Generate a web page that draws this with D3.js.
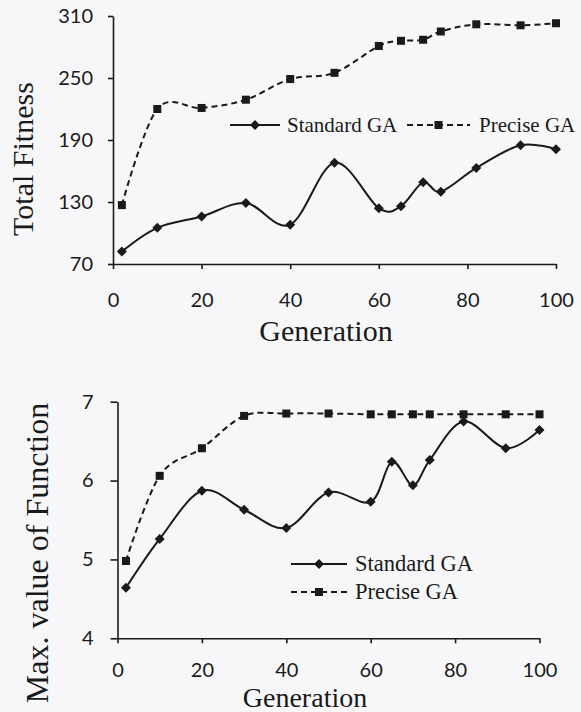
<!DOCTYPE html>
<html>
<head>
<meta charset="utf-8">
<script src="https://cdn.jsdelivr.net/npm/d3@7"></script>
<style>
    body { margin: 0; background: #f7f7f9; }
    svg { display: block; }
    .tick text { font-family: Lato, sans-serif; font-size: 20px; fill: #1a1a1a; }
    .serif { font-family: "Liberation Serif", "Times New Roman", serif; fill: #1a1a1a; }
</style>
</head>
<body>
<div id="chart"></div>
<script>
// 数据
const generations = [2, 10, 20, 30, 40, 50, 60, 65, 70, 74, 82, 92, 100];
const xTicks = [0, 20, 40, 60, 80, 100];

const fitnessStandard = [82, 105, 116, 129, 108, 168, 124, 126, 149, 140, 163, 185, 181];
const fitnessPrecise = [127, 220, 221, 229, 249, 255, 281, 286, 287, 295, 302, 301, 303];
const fitnessTicks = [70, 130, 190, 250, 310];

const maxStandard = [4.64, 5.26, 5.87, 5.63, 5.40, 5.85, 5.73, 6.24, 5.94, 6.26, 6.75, 6.41, 6.64];
const maxPrecise = [4.98, 6.06, 6.41, 6.82, 6.85, 6.85, 6.84, 6.84, 6.84, 6.84, 6.84, 6.84, 6.84];
const maxTicks = [4, 5, 6, 7];

const seriesNames = ["Standard GA", "Precise GA"];

const width = 581, height = 712;
const ink = "#1a1a1a";

const svg = d3.select("#chart")
    .append("svg")
    .attr("width", width)
    .attr("height", height);

const diamond = "M0,-5L5,0L0,5L-5,0Z";

function drawPanel(cfg) {
    const x = d3.scaleLinear().domain([0, 100]).range(cfg.xRange);
    const y = d3.scaleLinear().domain(d3.extent(cfg.yTicks)).range(cfg.yRange);
    const g = svg.append("g");

    // 坐标轴
    const xAxis = g.append("g")
        .attr("transform", `translate(0,${cfg.yRange[0]})`)
        .call(d3.axisBottom(x).tickValues(xTicks).tickSize(5).tickSizeOuter(0).tickPadding(cfg.xPad));
    const yAxis = g.append("g")
        .attr("transform", `translate(${cfg.xRange[0]},0)`)
        .call(d3.axisLeft(y).tickValues(cfg.yTicks).tickFormat(d3.format("d"))
            .tickSize(cfg.yTickSize).tickSizeOuter(0).tickPadding(cfg.yPad));
    [xAxis, yAxis].forEach(a => {
        a.selectAll("path, line").attr("stroke", ink).attr("stroke-width", 1.6);
    });

    const line = d3.line()
        .x((d, i) => x(generations[i]))
        .y(d => y(d))
        .curve(d3.curveCardinal.tension(0));

    // 精确GA（虚线）
    g.append("path")
        .attr("d", line(cfg.precise))
        .attr("fill", "none")
        .attr("stroke", ink)
        .attr("stroke-width", 2)
        .attr("stroke-dasharray", "6,4");
    g.append("g").selectAll("rect")
        .data(cfg.precise)
        .join("rect")
        .attr("x", (d, i) => x(generations[i]) - 4)
        .attr("y", d => y(d) - 4)
        .attr("width", 8)
        .attr("height", 8)
        .attr("fill", ink);

    // 标准GA（实线）
    g.append("path")
        .attr("d", line(cfg.standard))
        .attr("fill", "none")
        .attr("stroke", ink)
        .attr("stroke-width", 2);
    g.append("g").selectAll("path")
        .data(cfg.standard)
        .join("path")
        .attr("d", diamond)
        .attr("transform", (d, i) => `translate(${x(generations[i])},${y(d)})`)
        .attr("fill", ink);

    // 标题
    g.append("text")
        .attr("class", "serif")
        .attr("x", cfg.xTitle[0])
        .attr("y", cfg.xTitle[1])
        .attr("text-anchor", "middle")
        .style("font-size", cfg.xTitleSize + "px")
        .text("Generation");
    g.append("text")
        .attr("class", "serif")
        .attr("transform", `translate(${cfg.yTitle[0]},${cfg.yTitle[1]}) rotate(-90)`)
        .attr("text-anchor", "middle")
        .style("font-size", cfg.yTitleSize + "px")
        .text(cfg.yLabel);

    // 图例
    cfg.legend.forEach((item, k) => {
        const lg = g.append("g").attr("transform", `translate(${item.x},${item.y})`);
        lg.append("line")
            .attr("x1", 0).attr("x2", item.len)
            .attr("stroke", ink)
            .attr("stroke-width", 2)
            .attr("stroke-dasharray", k === 1 ? "6,4" : null);
        if (k === 0) {
            lg.append("path").attr("d", diamond)
                .attr("transform", `translate(${item.len / 2},0)`).attr("fill", ink);
        } else {
            lg.append("rect").attr("x", item.len / 2 - 4).attr("y", -4)
                .attr("width", 8).attr("height", 8).attr("fill", ink);
        }
        lg.append("text")
            .attr("class", "serif")
            .attr("x", item.len + item.gap)
            .attr("y", cfg.legendSize * 0.33)
            .style("font-size", cfg.legendSize + "px")
            .text(seriesNames[k]);
    });
}

drawPanel({
    xRange: [113, 556],
    yRange: [264, 16],
    yTicks: fitnessTicks,
    yTickSize: 5,
    yPad: 15,
    xPad: 24,
    standard: fitnessStandard,
    precise: fitnessPrecise,
    yLabel: "Total Fitness",
    yTitle: [33, 159],
    yTitleSize: 30,
    xTitle: [326, 341],
    xTitleSize: 30,
    legendSize: 21,
    legend: [
        { x: 230, y: 125, len: 50, gap: 7 },
        { x: 407, y: 125, len: 63, gap: 9 }
    ]
});

drawPanel({
    xRange: [117.5, 539.5],
    yRange: [638.3, 401.7],
    yTicks: maxTicks,
    yTickSize: 7,
    yPad: 17,
    xPad: 20,
    standard: maxStandard,
    precise: maxPrecise,
    yLabel: "Max. value of Function",
    yTitle: [48, 553],
    yTitleSize: 32,
    xTitle: [305, 707],
    xTitleSize: 28,
    legendSize: 22.5,
    legend: [
        { x: 291, y: 564, len: 56, gap: 8 },
        { x: 291, y: 592, len: 56, gap: 8 }
    ]
});
</script>
</body>
</html>
